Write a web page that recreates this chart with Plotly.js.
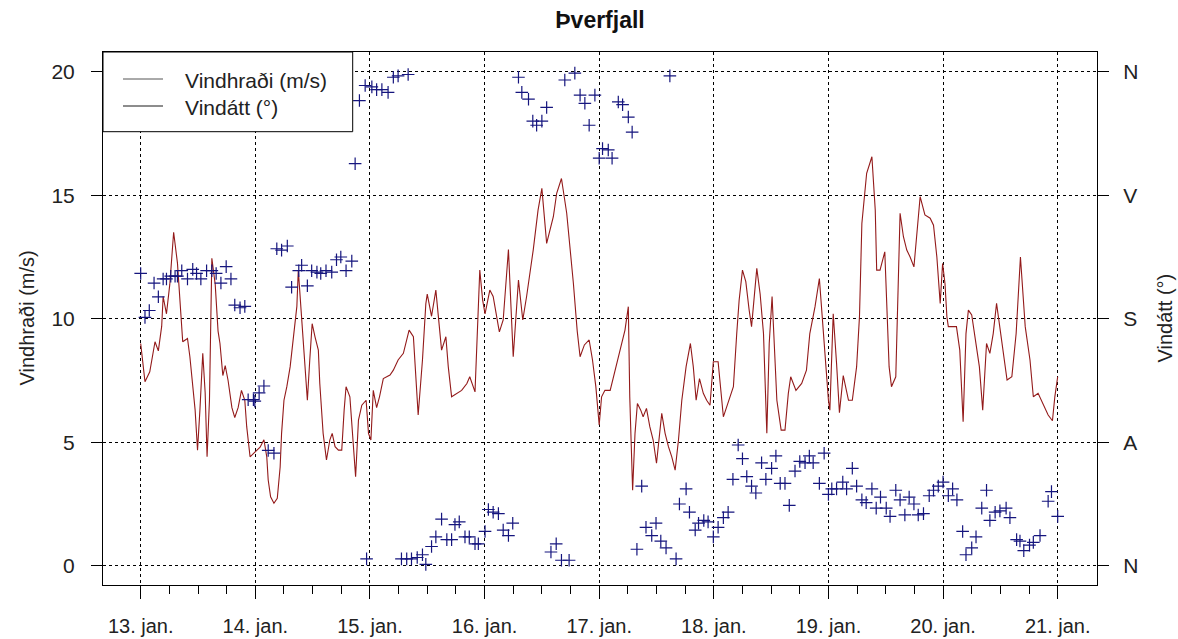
<!DOCTYPE html>
<html>
<head>
<meta charset="utf-8">
<script src="https://cdn.plot.ly/plotly-3.0.1.min.js"></script>
<style>html,body{margin:0;padding:0;background:#fff;}#chart{width:1178px;height:639px;}</style>
</head>
<body>
<div id="chart"></div>
<script>
// ---- data (hours after 13. jan. 00:00) ----
const dayLabels = ['13. jan.','14. jan.','15. jan.','16. jan.','17. jan.','18. jan.','19. jan.','20. jan.','21. jan.'];
const dirLabels = ['N','A','S','V','N'];
const dirTickDeg = [0, 90, 180, 270, 360];
const speedTicks = [0, 5, 10, 15, 20];

const speedHours = [
 0.0, 0.9, 1.9, 3.0, 3.7, 4.4, 4.7, 5.4, 6.1, 6.9,
 7.7, 8.8, 9.8, 10.3, 11.4, 11.9, 12.4, 13.0, 13.5, 13.9,
 14.4, 14.9, 15.6, 16.2, 16.6, 17.2, 17.7, 18.3, 19.1, 19.7,
 20.4, 21.1, 21.8, 22.2, 22.9, 23.9, 25.0, 25.8, 26.4, 26.7,
 27.2, 27.9, 28.6, 29.2, 29.5, 30.0, 30.6, 31.3, 32.0, 32.7,
 33.0, 33.7, 34.4, 34.9, 35.4, 35.9, 36.5, 37.2, 37.5, 38.2,
 38.9, 39.6, 40.1, 40.7, 41.4, 42.1, 42.6, 43.0, 43.8, 44.5,
 45.0, 45.6, 46.3, 47.2, 47.7, 48.2, 48.7, 49.4, 50.0, 50.8,
 52.2, 52.9, 53.9, 55.0, 56.2, 57.1, 58.1, 59.0, 59.7, 60.0,
 60.9, 61.8, 63.0, 63.9, 64.4, 65.1, 66.2, 67.2, 68.3, 68.9,
 70.0, 70.4, 71.0, 71.6, 72.1, 73.1, 73.8, 74.9, 75.1, 75.9,
 77.0, 78.0, 79.1, 80.0, 80.8, 82.2, 83.2, 84.0, 85.0, 86.4,
 87.1, 88.1, 89.2, 90.6, 91.4, 92.0, 92.9, 93.9, 94.6, 95.3,
 96.0, 96.5, 97.2, 98.3, 99.3, 100.4, 101.4, 102.1, 102.4, 103.0,
 103.5, 104.0, 104.7, 105.2, 105.9, 106.6, 107.3, 108.0, 109.1, 109.8,
 110.5, 111.2, 111.9, 112.6, 113.3, 114.2, 115.1, 115.7, 116.3, 117.0,
 117.8, 118.5, 119.2, 119.9, 120.9, 122.0, 123.0, 124.1, 124.8, 125.3,
 126.0, 126.7, 127.4, 127.9, 129.0, 129.7, 130.4, 131.1, 131.6, 132.2,
 133.2, 134.1, 134.9, 135.6, 136.1, 137.2, 138.4, 139.4, 140.1, 141.2,
 142.1, 142.9, 144.0, 144.3, 145.0, 145.7, 146.3, 147.1, 148.2, 149.0,
 149.9, 150.5, 151.0, 152.0, 153.1, 153.8, 154.1, 154.8, 155.8, 156.7,
 157.2, 158.1, 159.0, 159.7, 160.4, 161.1, 161.9, 163.2, 164.2, 165.3,
 166.0, 166.7, 167.4, 167.9, 168.4, 168.8, 169.1, 169.8, 170.8, 171.5,
 172.2, 172.8, 173.3, 174.0, 174.7, 175.6, 176.3, 177.1, 177.8, 178.5,
 179.2, 180.6, 181.4, 182.4, 183.3, 184.2, 185.2, 186.2, 186.9, 187.9,
 188.8, 190.0, 190.9, 191.4, 192.0
];
const speed = [
 9.0, 7.45, 7.85, 9.07, 8.7, 9.7, 10.9, 10.2, 11.4, 13.5,
 12.25, 9.07, 9.2, 8.46, 6.3, 4.68, 6.3, 8.6, 7.0, 4.41,
 6.7, 12.45, 11.4, 9.5, 9.0, 7.7, 8.1, 7.5, 6.4, 6.0,
 6.4, 7.1, 6.7, 5.63, 4.41, 4.6, 4.8, 5.1, 4.41, 3.47,
 2.79, 2.53, 2.73, 4.0, 5.36, 6.7, 7.25, 8.06, 9.4, 10.5,
 11.97, 10.1, 8.06, 6.7, 8.33, 9.8, 9.27, 8.73, 7.38, 5.36,
 4.28, 5.09, 5.36, 4.82, 4.68, 4.68, 6.3, 7.25, 6.84, 4.68,
 3.6, 5.9, 6.5, 6.7, 5.36, 5.09, 7.1, 6.4, 6.84, 7.58,
 7.72, 7.92, 8.33, 8.6, 9.54, 9.27, 6.1, 8.33, 10.6, 11.0,
 10.1, 11.16, 8.73, 9.27, 8.06, 6.84, 6.98, 7.1, 7.38, 7.65,
 7.04, 9.0, 11.97, 10.75, 10.2, 11.16, 10.9, 9.68, 9.47, 9.95,
 12.8, 8.46, 11.57, 9.95, 10.9, 12.8, 14.4, 15.28, 13.05, 14.13,
 15.08, 15.68, 14.27, 11.43, 9.5, 8.46, 8.94, 9.14, 8.33, 7.25,
 5.7, 6.84, 7.1, 7.1, 7.92, 8.73, 9.54, 10.49, 6.84, 3.06,
 5.36, 6.57, 6.3, 6.03, 6.37, 5.63, 5.09, 4.15, 6.17, 5.36,
 4.82, 4.41, 3.87, 5.09, 6.7, 8.06, 9.0, 8.06, 6.7, 7.58,
 6.98, 6.7, 6.5, 8.26, 8.26, 6.03, 6.57, 7.25, 9.4, 10.75,
 11.97, 11.5, 10.35, 9.68, 12.04, 11.0, 9.4, 5.36, 9.0, 10.9,
 6.7, 5.49, 5.49, 6.98, 7.65, 7.1, 7.38, 7.92, 9.4, 10.5,
 11.63, 9.4, 6.7, 6.3, 10.2, 8.2, 6.2, 7.7, 6.7, 6.7,
 8.06, 10.1, 13.86, 15.89, 16.56, 14.4, 11.97, 11.97, 12.71, 8.06,
 7.25, 7.65, 14.27, 13.32, 12.78, 12.5, 12.1, 14.94, 14.2, 14.07,
 13.79, 12.5, 10.62, 12.24, 11.43, 10.08, 9.68, 9.68, 9.68, 8.73,
 5.83, 9.4, 10.35, 10.15, 9.27, 8.06, 6.3, 9.0, 8.6, 9.4,
 10.62, 8.73, 7.52, 7.65, 9.4, 12.5, 9.68, 8.33, 6.84, 6.98,
 6.57, 6.1, 5.87, 6.84, 7.65
];

const dirHours = [
 0.0, 0.9, 1.8, 2.8, 3.7, 4.7, 5.4, 6.3, 7.2, 7.7,
 8.6, 9.8, 10.9, 11.7, 12.6, 13.8, 14.9, 15.8, 16.8, 17.9,
 18.9, 19.7, 20.8, 21.8, 22.5, 23.6, 23.9, 24.8, 25.8, 26.7,
 27.9, 28.5, 29.5, 30.7, 31.6, 33.1, 33.7, 34.9, 35.8, 36.9,
 37.7, 38.8, 40.0, 41.0, 41.9, 43.0, 44.2, 44.9, 45.8, 47.0,
 47.3, 48.4, 49.4, 50.5, 51.8, 52.9, 53.9, 54.6, 55.7, 56.0,
 56.7, 57.9, 59.0, 59.7, 60.9, 61.8, 63.0, 64.1, 65.1, 65.8,
 66.7, 67.9, 68.8, 70.0, 70.7, 72.1, 72.8, 73.8, 74.9, 75.9,
 77.0, 77.9, 79.1, 79.8, 81.2, 82.1, 82.9, 84.0, 85.0, 85.9,
 87.0, 88.1, 88.8, 89.7, 90.9, 92.0, 93.0, 93.9, 95.1, 96.0,
 96.7, 97.9, 98.7, 100.0, 100.9, 102.1, 102.9, 103.9, 104.9, 105.8,
 107.0, 107.9, 108.9, 110.0, 110.8, 112.1, 112.8, 114.2, 114.9, 116.1,
 116.8, 117.9, 118.8, 119.9, 120.9, 122.0, 123.0, 124.0, 125.1, 126.0,
 126.9, 127.9, 128.8, 130.0, 130.9, 132.1, 133.0, 133.9, 134.9, 135.8,
 137.0, 138.0, 139.1, 140.0, 140.8, 142.1, 143.1, 144.0, 144.7, 145.7,
 147.0, 147.8, 149.0, 149.9, 151.0, 151.9, 153.1, 154.0, 154.9, 156.1,
 156.9, 158.1, 159.0, 160.0, 160.9, 161.9, 162.8, 163.9, 165.1, 166.0,
 167.0, 168.0, 169.1, 170.0, 170.9, 172.1, 172.8, 174.0, 174.9, 176.1,
 177.1, 177.8, 178.9, 179.9, 181.2, 182.0, 183.4, 184.1, 184.9, 186.1,
 186.9, 188.3, 190.0, 190.7, 192.0
];
const dirDeg = [
 213, 181, 186, 206, 196, 209, 209, 211, 211, 211,
 215, 209, 216, 213, 209, 215, 215, 213, 206, 218,
 209, 190, 188, 189, 121, 121, 120, 126, 131, 84,
 82, 231, 230, 233, 203, 215, 219, 204, 215, 214,
 213, 215, 214, 223, 225, 215, 222, 293, 339, 350,
 5, 349, 347, 347, 345, 356, 357, 5, 5, 358,
 5, 6, 8, 1, 14, 21, 34, 19, 19, 30,
 32, 21, 21, 16, 16, 25, 41, 39, 38, 26,
 22, 31, 356, 345, 340, 324, 321, 324, 334, 10,
 16, 4, 354, 4, 359, 343, 337, 321, 343, 297,
 304, 303, 297, 338, 336, 327, 316, 12, 58, 28,
 22, 31, 18, 13, 357, 5, 45, 56, 39, 26,
 31, 33, 32, 21, 28, 35, 39, 63, 88, 78,
 65, 58, 53, 75, 63, 71, 80, 60, 60, 44,
 69, 76, 75, 80, 75, 60, 82, 52, 56, 56,
 61, 56, 71, 58, 48, 46, 56, 42, 50, 42,
 36, 55, 48, 37, 50, 45, 37, 38, 51, 55,
 58, 61, 51, 56, 48, 25, 8, 13, 21, 42,
 55, 33, 39, 40, 42, 35, 19, 18, 11, 15,
 17, 22, 47, 54, 36
];

// ---- helpers ----
const base = Date.UTC(2014, 0, 13);
function toDate(h) {
  const d = new Date(base + Math.round(h * 3600000));
  return d.toISOString().replace('T', ' ').slice(0, 19);
}
const dayVals = dayLabels.map((_, i) => toDate(i * 24));
const minorVals = [];
for (let k = 0; k <= 32; k++) { if (k % 4 !== 0) minorVals.push(toDate(k * 6)); }

const yRange = [-0.78, 20.80];
const degPerUnit = 360 / 20;

const traces = [
  {
    x: speedHours.map(toDate), y: speed, type: 'scatter', mode: 'lines',
    line: { color: '#931a1a', width: 1.1 }, xaxis: 'x', yaxis: 'y', hoverinfo: 'skip'
  },
  {
    x: dirHours.map(toDate), y: dirDeg, type: 'scatter', mode: 'markers',
    marker: { symbol: 'cross-thin-open', size: 9, color: '#15157e', line: { width: 1.2, color: '#15157e' } },
    xaxis: 'x', yaxis: 'y2', hoverinfo: 'skip'
  }
];

const font = 'Liberation Sans, Arial, Helvetica, sans-serif';
const W = 994, H = 533; // plot area size in px
function px(xp) { return (xp - 103) / W; }
function py(yp) { return 1 - (yp - 52) / H; }

const layout = {
  width: 1178, height: 639,
  margin: { l: 103, r: 81, t: 52, b: 54, pad: 0 },
  paper_bgcolor: '#fff', plot_bgcolor: '#fff',
  font: { family: font, size: 20, color: '#222' },
  showlegend: false,
  title: { text: '<b>Þverfjall</b>', font: { family: font, size: 23, color: '#111' },
           x: 0.5, xref: 'paper', xanchor: 'center', y: 1 - 20 / 639, yref: 'container', yanchor: 'middle' },
  xaxis: {
    type: 'date', range: [toDate(-7.89), toDate(192 + 8.23)],
    tickmode: 'array', tickvals: dayVals, ticktext: dayLabels,
    ticks: 'outside', ticklen: 13, tickwidth: 1, tickcolor: '#000',
    ticklabelstandoff: 10,
    tickfont: { family: font, size: 20, color: '#222' },
    showline: true, linecolor: '#000', linewidth: 1, mirror: true,
    showgrid: true, gridcolor: '#000', gridwidth: 1, griddash: 'dot',
    zeroline: false, fixedrange: true,
    minor: { tickmode: 'array', tickvals: minorVals, ticks: 'outside', ticklen: 8, tickwidth: 1, tickcolor: '#000', showgrid: false }
  },
  yaxis: {
    range: yRange, tickmode: 'array', tickvals: speedTicks,
    ticks: 'outside', ticklen: 11, tickwidth: 1, tickcolor: '#000',
    ticklabelstandoff: 12,
    tickfont: { family: font, size: 21, color: '#222' },
    showline: true, linecolor: '#000', linewidth: 1, mirror: true,
    showgrid: true, gridcolor: '#000', gridwidth: 1, griddash: 'dot',
    zeroline: false, fixedrange: true
  },
  yaxis2: {
    overlaying: 'y', side: 'right',
    range: [yRange[0] * degPerUnit, yRange[1] * degPerUnit],
    tickmode: 'array', tickvals: dirTickDeg, ticktext: dirLabels,
    ticks: 'outside', ticklen: 11, tickwidth: 1, tickcolor: '#000',
    ticklabelstandoff: 10,
    tickfont: { family: font, size: 21, color: '#222' },
    showline: false, showgrid: false, zeroline: false, fixedrange: true
  },
  shapes: [
    { type: 'rect', xref: 'paper', yref: 'paper', x0: 0, x1: px(352.7), y0: py(131.7), y1: 1,
      line: { color: '#000', width: 1 }, fillcolor: '#fff', layer: 'above' },
    { type: 'line', xref: 'paper', yref: 'paper', x0: px(123), x1: px(163), y0: py(79), y1: py(79),
      line: { color: '#555', width: 1 }, layer: 'above' },
    { type: 'line', xref: 'paper', yref: 'paper', x0: px(123), x1: px(163), y0: py(106), y1: py(106),
      line: { color: '#1a1a1a', width: 1 }, layer: 'above' }
  ],
  annotations: [
    { text: 'Vindhraði (m/s)', xref: 'paper', yref: 'paper', x: px(183), y: py(80), xanchor: 'left', yanchor: 'middle',
      showarrow: false, font: { family: font, size: 21, color: '#222' } },
    { text: 'Vindátt (°)', xref: 'paper', yref: 'paper', x: px(183), y: py(108), xanchor: 'left', yanchor: 'middle',
      showarrow: false, font: { family: font, size: 21, color: '#222' } },
    { text: 'Vindhraði (m/s)', xref: 'paper', yref: 'paper', x: px(26), y: 0.5, xanchor: 'center', yanchor: 'middle',
      textangle: -90, showarrow: false, font: { family: font, size: 20, color: '#222' } },
    { text: 'Vindátt (°)', xref: 'paper', yref: 'paper', x: px(1164), y: 0.5, xanchor: 'center', yanchor: 'middle',
      textangle: -90, showarrow: false, font: { family: font, size: 20, color: '#222' } }
  ]
};

Plotly.newPlot('chart', traces, layout, { displayModeBar: false, staticPlot: true });
</script>
</body>
</html>
